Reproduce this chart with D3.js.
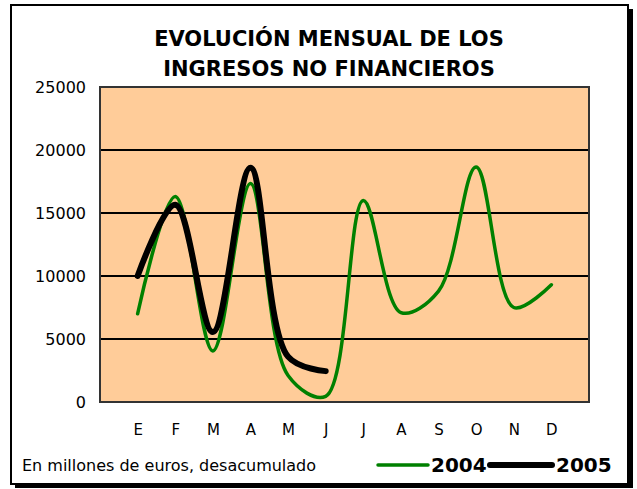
<html lang="es">
<head>
  <title>Evolucion mensual ingresos</title>
  <meta charset="utf-8">
  <script src="https://cdnjs.cloudflare.com/ajax/libs/d3/7.8.5/d3.min.js"></script>
  <style>
    body { margin: 0; background: white; }
    text { font-family: 'DejaVu Sans', Tahoma, sans-serif; fill: black; }
    .tick_label { font-size: 15px; }
    .y_label { font-size: 16px; }
    .note { font-size: 16px; }
    .title { font-size: 21px; font-weight: bold; }
    .legend_label { font-size: 20px; font-weight: bold; }
  </style>
</head>

<body>
  <svg id = 'canvas' width = '637' height = '489'></svg>
</body>

<script>

// data
var months = ['E', 'F', 'M', 'A', 'M', 'J', 'J', 'A', 'S', 'O', 'N', 'D'];
var values_2004 = [7000, 16300, 4050, 17350, 2100, 450, 16000, 7100, 8800, 18650, 7500, 9300];
var values_2005 = [10000, 15650, 5550, 18600, 3600, 2450];
var y_ticks = [0, 5000, 10000, 15000, 20000, 25000];
var series = [
  { name: '2004', values: values_2004, color: '#008000', width: 3.5 },
  { name: '2005', values: values_2005, color: 'black', width: 6 }
];
var title_lines = ['EVOLUCIÓN MENSUAL DE LOS', 'INGRESOS NO FINANCIEROS'];
var note = 'En millones de euros, desacumulado';

var svg = d3.select('#canvas');
var plot = { left: 100, top: 87, right: 589, bottom: 402 };

/*******************************************************************************/
// frame with shadow

svg.append('rect').attr('x', 15).attr('y', 9).attr('width', 618).attr('height', 479).style('fill', 'black');
svg.append('rect').attr('x', 11).attr('y', 5).attr('width', 617).attr('height', 479)
  .style('fill', 'white').style('stroke', 'black').style('stroke-width', 2);

svg.selectAll('.title').data(title_lines).enter()
  .append('text').attr('class', 'title')
  .attr('x', 329).attr('y', function(d, i){ return 46 + i*30 })
  .attr('text-anchor', 'middle').text(function(d){ return d });

/*******************************************************************************/
// scales and axes

var xScale = d3.scalePoint().domain(d3.range(months.length)).range([plot.left, plot.right]).padding(1);
var yScale = d3.scaleLinear().domain([0, 25000]).range([plot.bottom, plot.top]);

svg.append('rect').attr('x', plot.left).attr('y', plot.top)
  .attr('width', plot.right - plot.left).attr('height', plot.bottom - plot.top)
  .style('fill', '#FFCC99');

svg.append('g').selectAll('line').data(y_ticks.slice(1, -1)).enter()
  .append('line')
  .attr('x1', plot.left).attr('x2', plot.right)
  .attr('y1', function(d){ return yScale(d) }).attr('y2', function(d){ return yScale(d) })
  .style('stroke', 'black').style('stroke-width', 2);

svg.append('rect').attr('x', plot.left).attr('y', plot.top)
  .attr('width', plot.right - plot.left).attr('height', plot.bottom - plot.top)
  .style('fill', 'none').style('stroke', '#333').style('stroke-width', 2);

var yAxis = svg.append('g').attr('transform', 'translate(' + (plot.left - 14) + ',0)')
  .call(d3.axisLeft(yScale).tickValues(y_ticks).tickFormat(d3.format('d')).tickSize(0).tickPadding(0));
yAxis.select('.domain').remove();
yAxis.selectAll('text').attr('class', 'y_label').attr('font-family', null).attr('font-size', null);

var xAxis = svg.append('g').attr('transform', 'translate(0,' + (plot.bottom + 22) + ')')
  .call(d3.axisBottom(xScale).tickFormat(function(i){ return months[i] }).tickSize(0).tickPadding(0));
xAxis.select('.domain').remove();
xAxis.selectAll('text').attr('class', 'tick_label').attr('font-family', null).attr('font-size', null);

/*******************************************************************************/
// lines

var line = d3.line()
  .x(function(d, i){ return xScale(i) })
  .y(function(d){ return yScale(d) })
  .curve(d3.curveCatmullRom.alpha(0.5));

svg.append('g').selectAll('path').data(series).enter()
  .append('path')
  .attr('d', function(d){ return line(d.values) })
  .style('fill', 'none')
  .style('stroke', function(d){ return d.color })
  .style('stroke-width', function(d){ return d.width })
  .style('stroke-linecap', 'round').style('stroke-linejoin', 'round');

/*******************************************************************************/
// footnote and legend

svg.append('text').attr('class', 'note').attr('x', 22).attr('y', 471).text(note);

var legend_x = [378, 490];
var legend = svg.append('g').selectAll('g').data(series).enter()
  .append('g').attr('transform', function(d, i){ return 'translate(' + legend_x[i] + ',465)' });
legend.append('line').attr('x1', 0).attr('x2', function(d, i){ return i == 0 ? 50 : 62 })
  .style('stroke', function(d){ return d.color })
  .style('stroke-width', function(d){ return d.width }).style('stroke-linecap', 'round');
legend.append('text').attr('class', 'legend_label')
  .attr('x', function(d, i){ return i == 0 ? 53 : 66 }).attr('y', 7)
  .text(function(d){ return d.name });

</script>
</html>
